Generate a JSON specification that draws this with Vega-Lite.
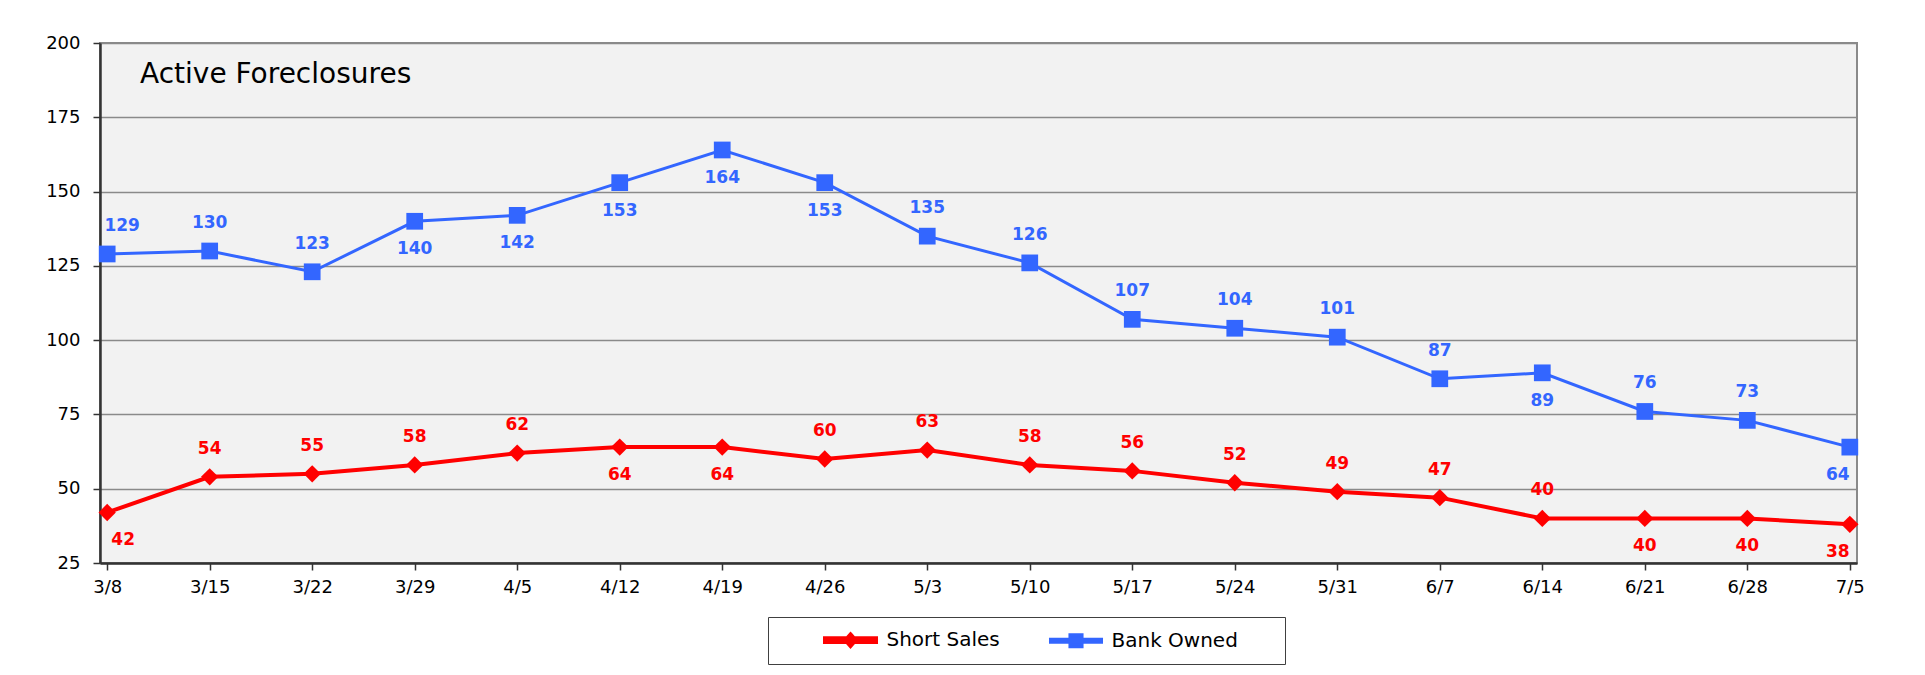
{
  "$schema": "https://vega.github.io/schema/vega-lite/v6.json",
  "width": 1757,
  "height": 520,
  "autosize": "none",
  "padding": {"left": 100, "top": 43, "right": 68, "bottom": 112},
  "background": "white",
  "config": {
    "font": "DejaVu Sans",
    "view": {"fill": "#f2f2f2", "stroke": "#8a8a8a", "strokeWidth": 2}
  },
  "title": {
    "text": "Active Foreclosures",
    "anchor": "start",
    "frame": "group",
    "fontSize": 28,
    "fontWeight": "normal",
    "color": "#000000",
    "dx": 40,
    "dy": 77,
    "offset": 0,
    "baseline": "alphabetic"
  },
  "data": {
    "values": [
      {"date": "3/8", "series": "Short Sales", "value": 42},
      {"date": "3/15", "series": "Short Sales", "value": 54},
      {"date": "3/22", "series": "Short Sales", "value": 55},
      {"date": "3/29", "series": "Short Sales", "value": 58},
      {"date": "4/5", "series": "Short Sales", "value": 62},
      {"date": "4/12", "series": "Short Sales", "value": 64},
      {"date": "4/19", "series": "Short Sales", "value": 64},
      {"date": "4/26", "series": "Short Sales", "value": 60},
      {"date": "5/3", "series": "Short Sales", "value": 63},
      {"date": "5/10", "series": "Short Sales", "value": 58},
      {"date": "5/17", "series": "Short Sales", "value": 56},
      {"date": "5/24", "series": "Short Sales", "value": 52},
      {"date": "5/31", "series": "Short Sales", "value": 49},
      {"date": "6/7", "series": "Short Sales", "value": 47},
      {"date": "6/14", "series": "Short Sales", "value": 40},
      {"date": "6/21", "series": "Short Sales", "value": 40},
      {"date": "6/28", "series": "Short Sales", "value": 40},
      {"date": "7/5", "series": "Short Sales", "value": 38},
      {"date": "3/8", "series": "Bank Owned", "value": 129},
      {"date": "3/15", "series": "Bank Owned", "value": 130},
      {"date": "3/22", "series": "Bank Owned", "value": 123},
      {"date": "3/29", "series": "Bank Owned", "value": 140},
      {"date": "4/5", "series": "Bank Owned", "value": 142},
      {"date": "4/12", "series": "Bank Owned", "value": 153},
      {"date": "4/19", "series": "Bank Owned", "value": 164},
      {"date": "4/26", "series": "Bank Owned", "value": 153},
      {"date": "5/3", "series": "Bank Owned", "value": 135},
      {"date": "5/10", "series": "Bank Owned", "value": 126},
      {"date": "5/17", "series": "Bank Owned", "value": 107},
      {"date": "5/24", "series": "Bank Owned", "value": 104},
      {"date": "5/31", "series": "Bank Owned", "value": 101},
      {"date": "6/7", "series": "Bank Owned", "value": 87},
      {"date": "6/14", "series": "Bank Owned", "value": 89},
      {"date": "6/21", "series": "Bank Owned", "value": 76},
      {"date": "6/28", "series": "Bank Owned", "value": 73},
      {"date": "7/5", "series": "Bank Owned", "value": 64}
    ]
  },
  "encoding": {
    "x": {
      "field": "date",
      "type": "ordinal",
      "sort": null,
      "scale": {"type": "point", "padding": 0.07},
      "axis": {
        "title": null,
        "labelAngle": 0,
        "labelFontSize": 18,
        "labelColor": "#000000",
        "labelPadding": 8,
        "tickSize": 7,
        "tickColor": "#333333",
        "tickWidth": 1.5,
        "domainColor": "#333333",
        "domainWidth": 2.5,
        "grid": false
      }
    },
    "y": {
      "field": "value",
      "type": "quantitative",
      "scale": {"domain": [25, 200], "nice": false, "zero": false},
      "axis": {
        "title": null,
        "values": [25, 50, 75, 100, 125, 150, 175, 200],
        "labelFontSize": 18,
        "labelColor": "#000000",
        "labelPadding": 13,
        "tickSize": 7,
        "tickColor": "#333333",
        "tickWidth": 1.5,
        "domainColor": "#333333",
        "domainWidth": 2.5,
        "grid": true,
        "gridColor": "#8a8a8a",
        "gridWidth": 1.5
      }
    },
    "color": {
      "field": "series",
      "type": "nominal",
      "scale": {"domain": ["Short Sales", "Bank Owned"], "range": ["#FF0000", "#3366FF"]},
      "legend": {
        "orient": "none",
        "legendX": 668,
        "legendY": 574,
        "direction": "horizontal",
        "title": "\u00a0",
        "titleOrient": "right",
        "titlePadding": 37,
        "titleFontSize": 4,
        "strokeColor": "#404040",
        "padding": 10,
        "labelFontSize": 20,
        "labelColor": "#000000",
        "symbolSize": 484,
        "symbolOffset": 59.5,
        "labelOffset": 23,
        "columnPadding": 4,
        "symbolStrokeWidth": 0
      }
    }
  },
  "layer": [
    {
      "mark": {"type": "line"},
      "encoding": {
        "strokeWidth": {
          "field": "series",
          "type": "nominal",
          "scale": {"domain": ["Short Sales", "Bank Owned"], "range": [4, 3]},
          "legend": null
        }
      }
    },
    {
      "transform": [{"filter": "datum.series == 'Short Sales'"}],
      "mark": {"type": "point", "filled": true, "opacity": 1, "size": 300, "shape": "diamond"}
    },
    {
      "transform": [{"filter": "datum.series == 'Bank Owned'"}],
      "mark": {"type": "point", "filled": true, "opacity": 1, "size": 280, "shape": "square"}
    },
    {
      "mark": {"type": "point", "filled": true, "opacity": 0},
      "encoding": {
        "shape": {
          "field": "series",
          "type": "nominal",
          "scale": {
            "domain": ["Short Sales", "Bank Owned"],
            "range": [
              "M-2.32,-0.18H2.32V0.18H-2.32Z M0,-0.52L0.46,0L0,0.52L-0.46,0Z",
              "M-2.32,-0.14H2.32V0.14H-2.32Z M-0.55,-0.55H0.55V0.55H-0.55Z"
            ]
          },
          "legend": {
            "orient": "none",
            "legendX": 668,
            "legendY": 574,
            "direction": "horizontal",
            "title": "\u00a0",
            "titleOrient": "right",
            "titlePadding": 37,
            "titleFontSize": 4,
            "strokeColor": "#404040",
            "padding": 10,
            "labelFontSize": 20,
            "labelColor": "#000000",
            "symbolSize": 484,
            "symbolOffset": 59.5,
            "labelOffset": 23,
            "columnPadding": 4,
            "symbolStrokeWidth": 0
          }
        }
      }
    },
    {
      "transform": [{"filter": "datum.date != '3/8' && datum.date != '7/5' && !((datum.series == 'Bank Owned' && indexof(['3/29','4/5','4/12','4/19','4/26','6/14'], datum.date) >= 0) || (datum.series == 'Short Sales' && indexof(['4/12','4/19','6/21','6/28'], datum.date) >= 0))"}],
      "mark": {"type": "text", "fontSize": 17, "fontWeight": "bold", "baseline": "middle", "dy": -28},
      "encoding": {"text": {"field": "value", "type": "quantitative"}}
    },
    {
      "transform": [{"filter": "datum.date != '3/8' && datum.date != '7/5' && ((datum.series == 'Bank Owned' && indexof(['3/29','4/5','4/12','4/19','4/26','6/14'], datum.date) >= 0) || (datum.series == 'Short Sales' && indexof(['4/12','4/19','6/21','6/28'], datum.date) >= 0))"}],
      "mark": {"type": "text", "fontSize": 17, "fontWeight": "bold", "baseline": "middle", "dy": 28},
      "encoding": {"text": {"field": "value", "type": "quantitative"}}
    },
    {
      "transform": [{"filter": "datum.date == '3/8' && datum.series == 'Bank Owned'"}],
      "mark": {"type": "text", "fontSize": 17, "fontWeight": "bold", "baseline": "middle", "dy": -28, "dx": 15},
      "encoding": {"text": {"field": "value", "type": "quantitative"}}
    },
    {
      "transform": [{"filter": "datum.date == '3/8' && datum.series == 'Short Sales'"}],
      "mark": {"type": "text", "fontSize": 17, "fontWeight": "bold", "baseline": "middle", "dy": 28, "dx": 16},
      "encoding": {"text": {"field": "value", "type": "quantitative"}}
    },
    {
      "transform": [{"filter": "datum.date == '7/5'"}],
      "mark": {"type": "text", "fontSize": 17, "fontWeight": "bold", "baseline": "middle", "dy": 28, "dx": -12},
      "encoding": {"text": {"field": "value", "type": "quantitative"}}
    }
  ]
}
